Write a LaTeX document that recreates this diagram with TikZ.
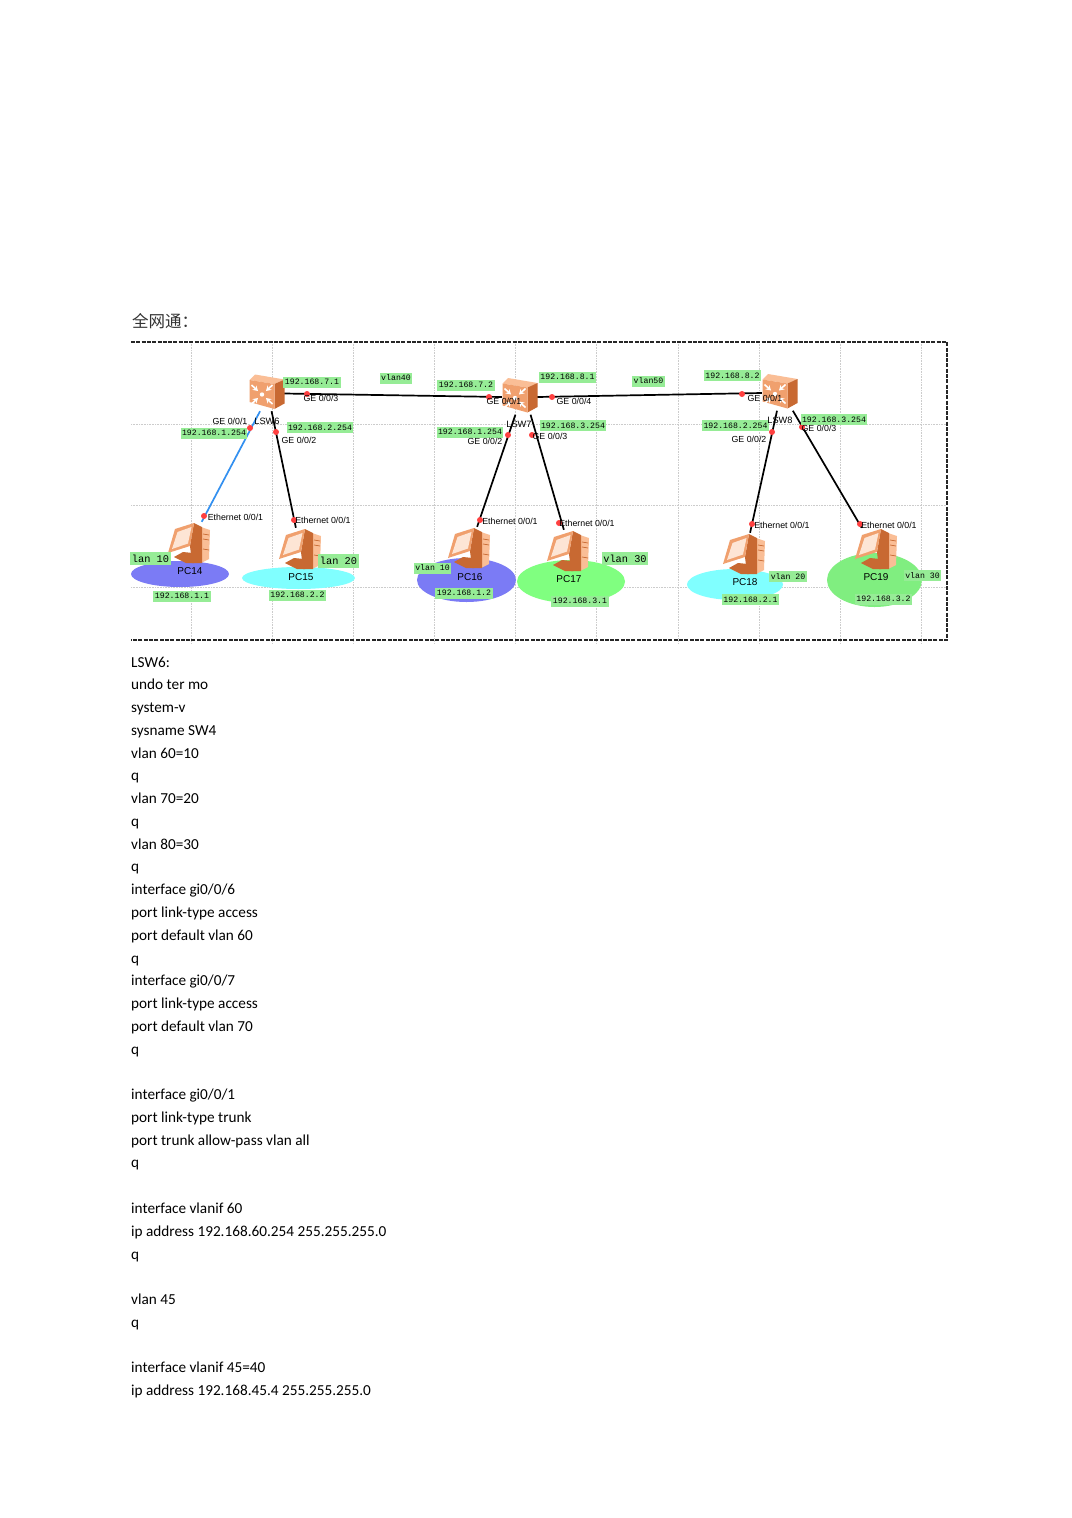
\documentclass[tikz,border=0pt]{standalone}
\usepackage{fontspec}
\setmainfont{Carlito}
\newfontfamily\netfont{Liberation Sans}
\newfontfamily\tagfont{Liberation Mono}
\newfontfamily\cjkfont{Noto Sans CJK SC}
\usetikzlibrary{arrows.meta,positioning}
\definecolor{tagc}{RGB}{150,236,150}
\definecolor{skyc}{RGB}{128,255,255}
\definecolor{mintc}{RGB}{128,255,128}
\definecolor{leafc}{RGB}{128,238,128}
\definecolor{violc}{RGB}{123,123,245}
\definecolor{linkb}{RGB}{51,144,240}
\definecolor{orl}{RGB}{250,190,150}
\definecolor{orm}{RGB}{240,160,110}
\definecolor{ord}{RGB}{200,105,50}
\tikzset{
  swbox/.style={minimum width=35pt,minimum height=35pt,inner sep=0pt},
  pcbox/.style={minimum width=42pt,minimum height=42pt,inner sep=0pt},
  lnk/.style={draw=black,line width=1.7pt},
  tag/.style={fill=tagc,inner xsep=1.5pt,inner ysep=0pt,minimum height=11pt,font=\tagfont\fontsize{8.2}{10}\selectfont},
  bigtag/.style={tag,minimum height=13.5pt,font=\tagfont\fontsize{10.3}{12}\selectfont},
  port/.style={font=\netfont\fontsize{8.8}{10}\selectfont,inner sep=0pt},
  devname/.style={font=\netfont\fontsize{10}{12}\selectfont,inner sep=0pt},
  reddot/.style={circle,fill=red!75!white,minimum size=6pt,inner sep=0pt},
  bodyline/.style={anchor=base west,inner sep=0pt,font=\fontsize{15.25}{18}\selectfont},
  swicon/.pic={
    \fill[orl] (-17,-13.5) -- (-11.5,-19) -- (18,-14) -- (8,-9.5) -- cycle;
    \fill[ord] (8,-9.5) -- (18,-14) -- (18,10) -- (8,15.5) -- cycle;
    \fill[orm] (-17,-13.5) -- (8,-9.5) -- (8,15.5) -- (-17,8.5) -- cycle;
    \foreach \dx/\dy in {-1/-1,1/-1,-1/1,1/1}
      \draw[white,line width=1.6pt,-{Stealth[length=5pt,width=6pt]}] ({-4.5+\dx*10.5},{1+\dy*9.5}) -- ({-4.5+\dx*4},{1+\dy*3.5});
    \fill[white] (-4.5,1) circle (2.2);
  },
  pcicon/.pic={
    \fill[orl] (12,-16) -- (21,-13) -- (20,16) -- (12,20) -- cycle;
    \fill[ord] (5,-20) -- (13,-16) -- (13,20) -- (3,20) -- (1,3) -- cycle;
    \fill[ord] (-15,14) -- (-6,9) -- (4,10) -- (5,20) -- (-3,20) -- cycle;
    \fill[orm] (-14,-14) -- (5,-20) -- (1,3) -- (-21,10) -- cycle;
    \fill[orl!40!white] (-11.5,-11) -- (2.5,-16) -- (-1,0.5) -- (-17,6) -- cycle;
    \foreach \dy in {-9,-4,6} \draw[ord,line width=0.7pt] (14,\dy) -- (20,{\dy+1});
  },
}
\begin{document}
\begin{tikzpicture}[x=1pt,y=-1pt]
  \useasboundingbox (0,0) rectangle (1071,1518);
  \fill[white] (0,0) rectangle (1071,1518);
  % grid behind the network
  \foreach \gx in {191.5,272.5,353.5,434.5,515.5,596.5,678,759.5,840.5,921.5}
    \draw[gray!40,line width=0.6pt,densely dotted] (\gx,342) -- (\gx,644);
  \foreach \gy in {424,505,587}
    \draw[gray!40,line width=0.6pt,densely dotted] (131,\gy) -- (947,\gy);
  \draw[black!85,line width=1.4pt,dash pattern=on 4pt off 1.3pt] (131,342) -- (947,342) -- (947,640) -- (131,640);
  \node[anchor=base west,inner sep=0pt,font=\cjkfont\fontsize{16.5}{18}\selectfont,text=black!80] (title) at (132,327) {全网通：};
  % vlan areas
  \foreach \x/\y/\rx/\ry/\c in {180/574/49/13/violc, 298.5/578/56.5/11/skyc, 466.5/580/49.5/22/violc,
                                571/581.5/54/21.5/mintc, 735/584.5/48/15.5/skyc, 874.5/580/47.5/27/leafc}
    \fill[\c] (\x,\y) ellipse ({\rx} and {\ry});
  % devices
  \node[swbox] (lsw6) at (266.5,393.5) {};
  \node[swbox] (lsw7) at (519.5,397) {};
  \node[swbox] (lsw8) at (779.5,393) {};
  \foreach \n/\x/\y in {pc14/189/543, pc15/300/549, pc16/469/548, pc17/568/551, pc18/744/554, pc19/876/549}
    \node[pcbox] (\n) at (\x,\y) {};
  % links
  \draw[lnk] (lsw6.east) -- (lsw7.west);
  \draw[lnk] (lsw7.east) -- (lsw8.west);
  \draw[draw=linkb,line width=1.7pt] (lsw6.-110) -- (pc14.59);
  \draw[lnk] (lsw6.-74) -- (pc15.101);
  \draw[lnk] (lsw7.-103) -- (pc16.69);
  \draw[lnk] (lsw7.-58) -- (pc17.101);
  \draw[lnk] (lsw8.-98) -- (pc18.74);
  \draw[lnk] (lsw8.-53) -- (pc19.124);
  \foreach \n in {lsw6,lsw7,lsw8} \pic at (\n) {swicon};
  \foreach \n in {pc14,pc15,pc16,pc17,pc18,pc19} \pic at (\n) {pcicon};
  % port dots
  \foreach \x/\y [count=\i] in {250/428, 276/432, 307/394, 204/516, 294/520, 489/397, 552/397, 508/435, 532/435,
                                480/520, 559/523, 742/394, 772/432, 802/427, 752/524, 860/524}
    \node[reddot] (dot\i) at (\x,\y) {};
  % green tags
  \foreach \x/\y/\t [count=\i] in {312/382/192.168.7.1, 396/378/vlan40, 214/433/192.168.1.254, 320/427.5/192.168.2.254,
      182/596/192.168.1.1, 297.5/595/192.168.2.2, 466/385/192.168.7.2, 567.5/377/192.168.8.1, 648.5/381/vlan50,
      470/432/192.168.1.254, 573/425.5/192.168.3.254, 432.5/568/{vlan 10}, 464/593/192.168.1.2, 580/601/192.168.3.1,
      732.5/375.5/192.168.8.2, 735.5/425.5/192.168.2.254, 834/419.5/192.168.3.254, 788/576.5/{vlan 20},
      750.5/599.5/192.168.2.1, 922.5/575.5/{vlan 30}, 883.5/599/192.168.3.2}
    \node[tag] (tag\i) at (\x,\y) {\t};
  \foreach \x/\y/\t [count=\i] in {150.5/558.5/{lan 10}, 338.5/561/{lan 20}, 625/558.5/{vlan 30}}
    \node[bigtag] (bigtag\i) at (\x,\y) {\t};
  % port labels
  \foreach \x/\y/\t [count=\i] in {321/398/{GE 0/0/3}, 230/421/{GE 0/0/1}, 299/440/{GE 0/0/2}, 235.5/517/{Ethernet 0/0/1},
      323/520/{Ethernet 0/0/1}, 504/401/{GE 0/0/1}, 574/401/{GE 0/0/4}, 485/441/{GE 0/0/2}, 550/436/{GE 0/0/3},
      510/521/{Ethernet 0/0/1}, 587/523/{Ethernet 0/0/1}, 765/398/{GE 0/0/1}, 749/439/{GE 0/0/2}, 819/428/{GE 0/0/3},
      782/525/{Ethernet 0/0/1}, 889/525/{Ethernet 0/0/1}}
    \node[port] (port\i) at (\x,\y) {\t};
  \foreach \x/\y/\t in {267/421/LSW6, 519/424/LSW7, 780/420/LSW8}
    \node[devname,font=\netfont\fontsize{9.2}{11}\selectfont] (name\t) at (\x,\y) {\t};
  \foreach \x/\y/\t in {190/571/PC14, 301/577/PC15, 470/577/PC16, 569/579/PC17, 745/582/PC18, 876/577/PC19}
    \node[devname] (name\t) at (\x,\y) {\t};
  % configuration text
  \foreach \t [count=\i] in {LSW6:, undo ter mo, system-v, sysname SW4, vlan 60=10, q, vlan 70=20, q, vlan 80=30, q,
      interface gi0/0/6, port link-type access, port default vlan 60, q, interface gi0/0/7, port link-type access,
      port default vlan 70, q, {}, interface gi0/0/1, port link-type trunk, port trunk allow-pass vlan all, q, {},
      interface vlanif 60, ip address 192.168.60.254 255.255.255.0, q, {}, vlan 45, q, {},
      interface vlanif 45=40, ip address 192.168.45.4 255.255.255.0}{
    \ifx\t\empty\else
      \node[bodyline] (line\i) at (131,{667+22.77*(\i-1)}) {\t};
    \fi}
\end{tikzpicture}
\end{document}
